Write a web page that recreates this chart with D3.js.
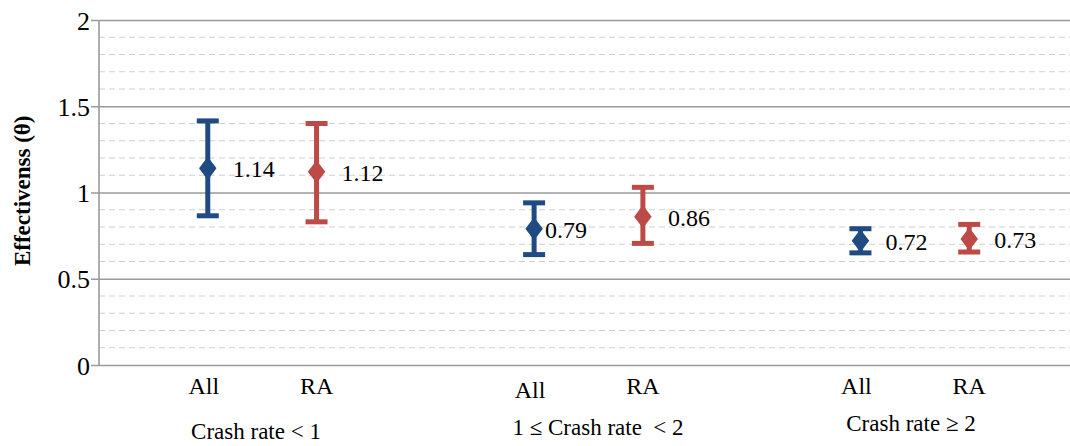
<!DOCTYPE html>
<html>
<head>
<meta charset="utf-8">
<script src="https://cdn.jsdelivr.net/npm/d3@7"></script>
<style>
  body { margin: 0; background: #fff; }
</style>
</head>
<body>
<div id="graf"></div>
<script>
// data
const groups = ["Crash rate < 1", "1 \u2264 Crash rate  < 2", "Crash rate \u2265 2"]
const series = ["All", "RA"]
const valAll = [1.14, 0.79, 0.72]
const lowAll = [0.865, 0.64, 0.65]
const highAll = [1.415, 0.94, 0.79]
const valRA = [1.12, 0.86, 0.73]
const lowRA = [0.83, 0.705, 0.655]
const highRA = [1.40, 1.03, 0.815]
const yTicks = [0, 0.5, 1, 1.5, 2]

const serif = "'Liberation Serif', 'Times New Roman', 'DejaVu Serif', serif"

const anchoTotal = 1070
const altoTotal = 446
const margins = { left: 99, top: 20, right: 0, bottom: 81 }
const ancho = anchoTotal - margins.left - margins.right
const alto = altoTotal - margins.top - margins.bottom

const svg = d3.select("#graf")
  .append("svg")
  .attr("width", anchoTotal)
  .attr("height", altoTotal)
  .style("font-family", serif)

const g = svg.append("g")
  .attr("transform", `translate(${margins.left}, ${margins.top})`)

const y = d3.scaleLinear().domain([0, 2]).range([alto, 0])
// slot positions: 3 groups of 2 with a gap slot between
const x = d3.scaleLinear().domain([0, 9]).range([0, ancho + 8])
const pos = (gi, si) => x(gi * 3 + 1 + si)

const colors = { All: "#1F4A82", RA: "#BC4A47" }

// minor dashed grid
const minor = d3.range(0, 2.0001, 0.1).filter(v => Math.abs(v * 2 - Math.round(v * 2)) > 0.01)
g.selectAll(".minor")
  .data(minor)
  .enter()
  .append("line")
  .attr("x1", 0)
  .attr("x2", ancho)
  .attr("y1", d => y(d))
  .attr("y2", d => y(d))
  .attr("stroke", "#cfcfcf")
  .attr("stroke-width", 1)
  .attr("stroke-dasharray", "6,4")

// major grid + y axis
const yAxis = d3.axisLeft(y).tickValues(yTicks).tickSize(-ancho).tickFormat(d3.format("~g")).tickPadding(9)
const ya = g.append("g").call(yAxis).attr("font-family", serif)
ya.select(".domain").remove()
ya.selectAll(".tick line").attr("stroke", "#9a9a9a").attr("stroke-width", 1.6).attr("x1", -8)
ya.selectAll(".tick text").style("font-size", "26px").style("font-family", serif).attr("fill", "#000")
  .attr("dy", "0.35em")

g.append("line")
  .attr("x1", 0).attr("x2", 0)
  .attr("y1", 0).attr("y2", alto)
  .attr("stroke", "#9a9a9a").attr("stroke-width", 1.6)

// y title
svg.append("text")
  .attr("transform", `translate(30, ${margins.top + y(1.01)}) rotate(-90)`)
  .attr("text-anchor", "middle")
  .style("font-family", serif)
  .style("font-size", "23px")
  .style("font-weight", "bold")
  .text("Effectivenss (\u03b8)")

// build points
const pts = []
groups.forEach((gr, i) => {
  pts.push({ g: i, s: 0, name: "All", v: valAll[i], lo: lowAll[i], hi: highAll[i] })
  pts.push({ g: i, s: 1, name: "RA", v: valRA[i], lo: lowRA[i], hi: highRA[i] })
})

const mark = g.selectAll(".pt")
  .data(pts)
  .enter()
  .append("g")
  .attr("transform", d => `translate(${pos(d.g, d.s)}, 0)`)

mark.append("line")
  .attr("y1", d => y(d.lo)).attr("y2", d => y(d.hi))
  .attr("stroke", d => colors[d.name]).attr("stroke-width", 5)
mark.selectAll(".cap")
  .data(d => [d.lo, d.hi].map(v => ({ v, c: colors[d.name] })))
  .enter()
  .append("line")
  .attr("x1", -11).attr("x2", 11)
  .attr("y1", d => y(d.v)).attr("y2", d => y(d.v))
  .attr("stroke", d => d.c).attr("stroke-width", 5)
mark.append("path")
  .attr("d", d3.symbol(d3.symbolDiamond, 240))
  .attr("transform", d => `translate(0, ${y(d.v)}) scale(1.05, 0.8)`)
  .attr("fill", d => colors[d.name])
mark.append("text")
  .attr("x", d => d.g === 1 && d.s === 0 ? 11 : 25)
  .attr("y", d => y(d.v) + 9)
  .style("font-size", "24px")
  .text(d => d3.format(".2f")(d.v))

// category labels
g.selectAll(".cat")
  .data(pts)
  .enter()
  .append("text")
  .attr("x", d => pos(d.g, d.s) - (d.s === 0 ? 4 : 0))
  .attr("y", d => alto + (d.g === 1 && d.s === 0 ? 33 : 29))
  .attr("text-anchor", "middle")
  .style("font-size", "24px")
  .text(d => d.name)

g.selectAll(".grp")
  .data(groups)
  .enter()
  .append("text")
  .attr("x", (d, i) => [157, 499, 812][i])
  .attr("y", (d, i) => alto + [74, 70, 66][i])
  .attr("text-anchor", "middle")
  .style("white-space", "pre")
  .style("font-size", "23px")
  .text(d => d)
</script>
</body>
</html>
